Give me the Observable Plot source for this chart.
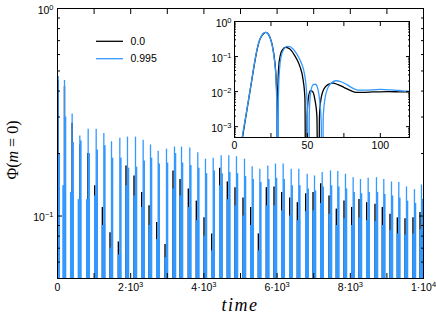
<!DOCTYPE html>
<html><head><meta charset="utf-8">
<script src="https://cdn.jsdelivr.net/npm/d3@7"></script>
<script src="https://cdn.jsdelivr.net/npm/@observablehq/plot@0.6"></script>
<style>
body{margin:0;background:#fff;}
#wrap{position:relative;width:436px;height:315px;overflow:hidden;}
#wrap > svg{position:absolute;left:0;top:0;}
#inset{position:absolute;left:200px;top:8px;}
</style></head><body><div id="wrap"><div id="inset"></div></div>
<script>
// ---------- data ----------
const seriesNames = ["0.0", "0.995"];
const blueTime = [20, 191, 400, 610, 838, 1057, 1266, 1475, 1703, 1912, 2131, 2341, 2541, 2751, 2978, 3196,
  3388, 3615, 3833, 4043, 4254, 4472, 4680, 4890, 5109, 5319, 5528, 5746, 5956, 6166, 6385, 6593,
  6822, 7022, 7232, 7459, 7658, 7868, 8078, 8278, 8488, 8715, 8915, 9125, 9325, 9535, 9753, 9945];
const bluePeak = [0.47, 0.45, 0.31, 0.243, 0.262, 0.262, 0.25, 0.228, 0.237, 0.24, 0.24, 0.232, 0.22, 0.205, 0.21, 0.215,
  0.215, 0.213, 0.202, 0.188, 0.19, 0.195, 0.195, 0.193, 0.188, 0.173, 0.168, 0.174, 0.178, 0.178, 0.168, 0.168,
  0.159, 0.156, 0.162, 0.165, 0.164, 0.159, 0.153, 0.15, 0.152, 0.153, 0.15, 0.146, 0.145, 0.138, 0.134, 0.141];
const blueShoulder = [0.2, 0.30, 0.226, 0.23, 0.2, 0.208, 0.218, 0.19, 0.19, 0.17, 0.172, 0.184, 0.19, 0.178, 0.18, 0.2,
  0.18, 0.175, 0.17, 0.16, 0.165, 0.16, 0.162, 0.16, 0.155, 0.15, 0.145, 0.15, 0.152, 0.15, 0.14, 0.14,
  0.135, 0.132, 0.138, 0.14, 0.138, 0.135, 0.13, 0.128, 0.13, 0.13, 0.127, 0.125, 0.122, 0.118, 0.115, 0.12];
const blueBody = [0.12, 0.14, 0.13, 0.12, 0.12, 0.125, 0.09, 0.07, 0.065, 0.14, 0.125, 0.11, 0.09, 0.077, 0.063, 0.135,
  0.125, 0.11, 0.095, 0.08, 0.068, 0.14, 0.12, 0.112, 0.1, 0.09, 0.068, 0.112, 0.112, 0.106, 0.1, 0.095,
  0.105, 0.106, 0.115, 0.102, 0.09, 0.097, 0.09, 0.098, 0.095, 0.094, 0.09, 0.085, 0.082, 0.081, 0.082, 0.086];
const blackTime = [20, 191, 400, 610, 830, 1017, 1226, 1435, 1663, 1872, 2091, 2301, 2501, 2711, 2938, 3156,
  3348, 3575, 3793, 4003, 4214, 4432, 4640, 4850, 5069, 5279, 5488, 5706, 5916, 6126, 6345, 6553,
  6782, 6982, 7192, 7419, 7618, 7828, 8038, 8238, 8448, 8675, 8875, 9085, 9285, 9495, 9713, 9905];
const blackPeak = [0.45, 0.42, 0.28, 0.22, 0.2, 0.14, 0.11, 0.083, 0.075, 0.174, 0.156, 0.13, 0.112, 0.093, 0.073, 0.165,
  0.15, 0.135, 0.118, 0.098, 0.082, 0.17, 0.146, 0.137, 0.122, 0.11, 0.082, 0.137, 0.138, 0.13, 0.122, 0.116,
  0.128, 0.13, 0.143, 0.125, 0.108, 0.118, 0.11, 0.12, 0.116, 0.114, 0.11, 0.102, 0.098, 0.097, 0.098, 0.104];

// inset: first 120 time units
const insetBlackT = [4, 5.5, 8, 10, 12, 14, 15.5, 17, 18.5, 20, 21.5, 23, 24.5, 26, 27.5, 28.5, 29.2, 29.4,
  29.7, 30.3, 31.5, 33, 35, 37, 39, 41, 43, 45, 47, 48.3, 49,
  49.3, 49.8, 50.6, 52, 53.5, 55, 56.5, 57.5,
  57.7, 58.2, 59, 61, 64, 67.5, 71, 75, 79, 83, 88, 95, 105, 115, 120];
const insetBlackV = [0.0002, 0.0005, 0.00219, 0.00708, 0.0229, 0.0741, 0.158, 0.275, 0.38, 0.457, 0.49, 0.447, 0.339, 0.2, 0.0794, 0.0251, 0.00316, 1e-7,
  0.01, 0.0501, 0.112, 0.158, 0.182, 0.174, 0.148, 0.112, 0.0794, 0.0501, 0.0224, 0.00631, 1e-7,
  1e-7, 0.002, 0.00631, 0.0107, 0.01, 0.00631, 0.002, 1e-7,
  1e-7, 0.00158, 0.00501, 0.0112, 0.0158, 0.0174, 0.0158, 0.0132, 0.011, 0.00955, 0.00955, 0.00977, 0.01, 0.00977, 0.00977];
const insetBlueT = [4, 5.3, 8, 10, 12, 14, 15.5, 17, 18.5, 20, 21.5, 23, 24.5, 26, 27.5, 28.5, 29.1, 29.6,
  30.1, 30.8, 32, 34, 36, 38, 40, 42, 44, 46, 48, 49.3, 50, 50.4,
  50.8, 51.3, 52.3, 54, 55.5, 57, 58.5, 59.5, 60,
  60.3, 60.8, 61.7, 63.5, 66, 69.5, 73, 77, 81, 85, 90, 95, 100, 105, 110, 115, 120];
const insetBlueV = [0.0002, 0.0005, 0.00229, 0.00741, 0.024, 0.0776, 0.162, 0.282, 0.389, 0.468, 0.49, 0.447, 0.331, 0.191, 0.0708, 0.02, 0.00251, 1e-7,
  0.00631, 0.0398, 0.1, 0.166, 0.195, 0.191, 0.166, 0.132, 0.0955, 0.0631, 0.0316, 0.0112, 0.00251, 1e-7,
  1e-7, 0.00251, 0.01, 0.0158, 0.0162, 0.0126, 0.00501, 0.00126, 1e-7,
  1e-7, 0.00158, 0.00501, 0.0112, 0.017, 0.0204, 0.0191, 0.0158, 0.0126, 0.011, 0.011, 0.0112, 0.0115, 0.0112, 0.011, 0.0105, 0.0102];

// ticks and tick labels
const xTickAll = [0, 1000, 2000, 3000, 4000, 5000, 6000, 7000, 8000, 9000, 10000];
const xLabelTicks = [0, 2000, 4000, 6000, 8000, 10000];
const xLabelText = ["0", "2·10^3", "4·10^3", "6·10^3", "8·10^3", "1·10^4"];
const yMajor = [0.1, 1];
const yMajorText = ["10^\u22121", "10^0"];
const yMinor = [0.05, 0.06, 0.07, 0.08, 0.09, 0.2, 0.3, 0.4, 0.5, 0.6, 0.7, 0.8, 0.9];
const ixTicks = [0, 25, 50, 75, 100];
const ixLabelTicks = [0, 50, 100];
const ixLabelText = ["0", "50", "100"];
const iyMajor = [0.001, 0.01, 0.1, 1];
const iyMajorText = ["10^\u22123", "10^\u22122", "10^\u22121", "10^0"];
const iyMinor = [0.0005, 0.0006, 0.0007, 0.0008, 0.0009, 0.002, 0.003, 0.004, 0.005, 0.006, 0.007, 0.008, 0.009,
  0.02, 0.03, 0.04, 0.05, 0.06, 0.07, 0.08, 0.09, 0.2, 0.3, 0.4, 0.5, 0.6, 0.7, 0.8, 0.9];

// ---------- rendering ----------
const FONT = "'Liberation Sans', Arial, Helvetica, sans-serif";
const SERIF = "'Liberation Serif', 'Times New Roman', serif";
const BLUE = "#3399ff";
const yFloor = 0.05;

const blueRows = blueTime.map((t, i) => ({t, lo: yFloor, peak: bluePeak[i], shoulder: blueShoulder[i], body: blueBody[i]}));
const blackRows = blackTime.map((t, i) => ({t, lo: yFloor, peak: blackPeak[i]}));
const lab = (ticks, texts) => { const m = new Map(ticks.map((t, i) => [t, texts[i]])); return d => m.get(d) ?? ""; };
const none = () => "";

function boxAxes(xAll, xLab, xLabTxt, yMaj, yMajTxt, yMin, big, small, xPad, yPad) {
  return [
    Plot.axisX({anchor: "bottom", ticks: xAll, tickSize: big, dy: -big, tickFormat: none}),
    Plot.axisX({anchor: "top", ticks: xAll, tickSize: big, dy: big, tickFormat: none}),
    Plot.axisY({anchor: "left", ticks: yMaj, tickSize: big, dx: big, tickFormat: none}),
    Plot.axisY({anchor: "left", ticks: yMin, tickSize: small, dx: small, tickFormat: none}),
    Plot.axisY({anchor: "right", ticks: yMaj, tickSize: big, dx: -big, tickFormat: none}),
    Plot.axisY({anchor: "right", ticks: yMin, tickSize: small, dx: -small, tickFormat: none}),
    Plot.axisX({anchor: "bottom", ticks: xLab, tickSize: 0, tickPadding: xPad, tickFormat: lab(xLab, xLabTxt)}),
    Plot.axisY({anchor: "left", ticks: yMaj, tickSize: 0, tickPadding: yPad, dy: 2, tickFormat: lab(yMaj, yMajTxt)})
  ];
}

const main = Plot.plot({
  width: 436, height: 315,
  marginLeft: 57, marginRight: 13, marginTop: 8, marginBottom: 37,
  style: {fontFamily: FONT, fontSize: "10.5px", background: "white", color: "black"},
  x: {domain: [0, 10000], label: null},
  y: {type: "log", domain: [yFloor, 1], label: null},
  marks: [
    Plot.ruleX(blackRows, {x: "t", y1: "lo", y2: "peak", stroke: "#000", strokeWidth: 1.4, clip: true}),
    Plot.ruleX(blueRows, {x: "t", y1: "lo", y2: "body", stroke: BLUE, strokeWidth: 3.6, dx: -0.4, clip: true}),
    Plot.ruleX(blueRows, {x: "t", y1: "lo", y2: "shoulder", stroke: BLUE, strokeWidth: 1.8, dx: 0.9, clip: true}),
    Plot.ruleX(blueRows, {x: "t", y1: "lo", y2: "peak", stroke: BLUE, strokeWidth: 1.3, clip: true}),
    ...boxAxes(xTickAll, xLabelTicks, xLabelText, yMajor, yMajorText, yMinor, 5, 3, 5, 4),
    Plot.frame({stroke: "#000", strokeWidth: 1})
  ]
});

const insetRowsBlack = insetBlackT.map((t, i) => ({t, v: insetBlackV[i]}));
const insetRowsBlue = insetBlueT.map((t, i) => ({t, v: insetBlueV[i]}));
const inset = Plot.plot({
  width: 222, height: 150,
  marginLeft: 34, marginRight: 13, marginTop: 13, marginBottom: 21,
  style: {fontFamily: FONT, fontSize: "10.5px", background: "transparent", color: "black", overflow: "visible"},
  x: {domain: [0, 120], label: null},
  y: {type: "log", domain: [4.9e-4, 1], label: null},
  marks: [
    Plot.frame({fill: "white"}),
    Plot.line(insetRowsBlack, {x: "t", y: "v", stroke: "#000", strokeWidth: 1.3, curve: "monotone-x", clip: true}),
    Plot.line(insetRowsBlue, {x: "t", y: "v", stroke: BLUE, strokeWidth: 1.3, curve: "monotone-x", clip: true}),
    ...boxAxes(ixTicks, ixLabelTicks, ixLabelText, iyMajor, iyMajorText, iyMinor, 4, 2, 4, 3),
    Plot.frame({stroke: "#000", strokeWidth: 1})
  ]
});

// superscripts in tick labels ("a^b")
function superscripts(svg) {
  svg.querySelectorAll("text").forEach(t => {
    const s = t.textContent;
    if (!s.includes("^")) return;
    const [base, sup] = s.split("^");
    t.textContent = base;
    const ts = document.createElementNS("http://www.w3.org/2000/svg", "tspan");
    ts.setAttribute("dy", "-4");
    ts.setAttribute("font-size", "7.5px");
    ts.textContent = sup;
    t.appendChild(ts);
  });
}
superscripts(main);
superscripts(inset);

const wrap = document.getElementById("wrap");
wrap.insertBefore(main, wrap.firstChild);
document.getElementById("inset").appendChild(inset);

// axis titles and legend
const svg = d3.select(main);
const yl = svg.append("text")
  .attr("transform", "translate(18,150) rotate(-90)")
  .attr("text-anchor", "middle")
  .attr("font-family", SERIF).attr("font-size", 16).attr("fill", "#000");
yl.append("tspan").text("\u03A6(");
yl.append("tspan").attr("font-style", "italic").text("m");
yl.append("tspan").text(" = 0)");
svg.append("text")
  .attr("x", 240).attr("y", 311)
  .attr("text-anchor", "middle")
  .attr("font-family", SERIF).attr("font-style", "italic").attr("font-size", 18)
  .attr("letter-spacing", 1.5).attr("fill", "#000")
  .text("time");
const legColors = ["#000", BLUE];
seriesNames.forEach((name, i) => {
  const y = 41.3 + i * 17.4;
  svg.append("line").attr("x1", 96).attr("x2", 123).attr("y1", y).attr("y2", y)
    .attr("stroke", legColors[i]).attr("stroke-width", 1.3);
  svg.append("text").attr("x", 130.5).attr("y", y).attr("dy", "0.35em")
    .attr("text-anchor", "start")
    .attr("font-family", FONT).attr("font-size", 10.5).attr("fill", "#000").text(name);
});
</script></body></html>
